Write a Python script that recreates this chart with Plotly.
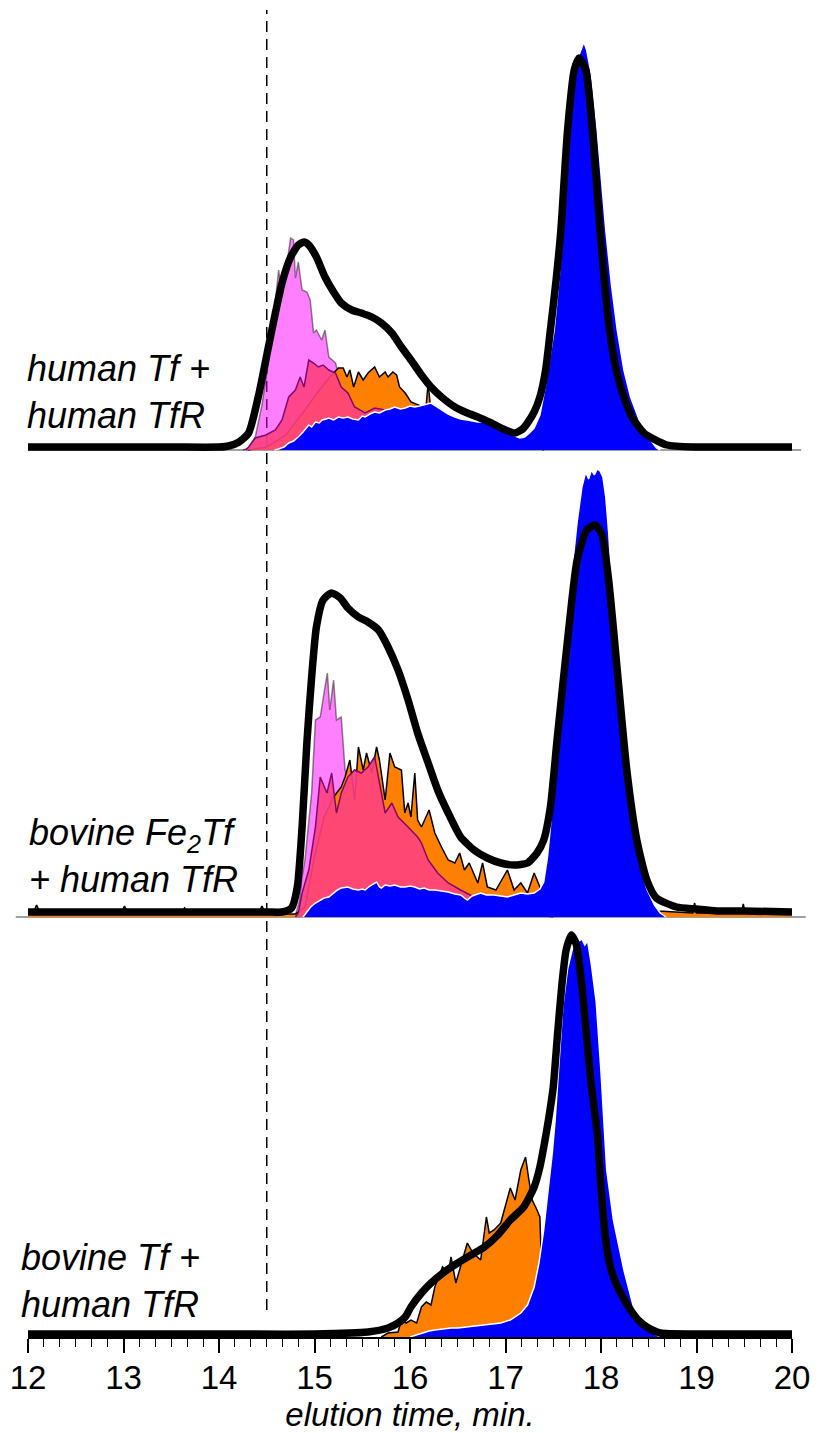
import plotly.graph_objects as go

# ---------------- DATA (elution time in min, absorbance in arbitrary units) ----------------
# Panel 1: human Tf + human TfR
top_black_t = [12.0, 12.5, 13.0, 13.5, 14.0, 14.1, 14.21, 14.31, 14.42, 14.49, 14.56, 14.66, 14.75, 14.83, 14.89,
               14.94, 15.02, 15.11, 15.20, 15.28, 15.39, 15.49, 15.60, 15.70, 15.81, 15.91, 16.01, 16.12, 16.22,
               16.33, 16.47, 16.60, 16.71, 16.85, 17.00, 17.10, 17.18, 17.23, 17.30, 17.36, 17.42, 17.47, 17.53,
               17.58, 17.65, 17.72, 17.77, 17.84, 17.91, 17.99, 18.04, 18.09, 18.16, 18.24, 18.33, 18.45, 18.69,
               19.0, 19.5, 20.0]
top_black_v = [3, 3, 3, 3, 3, 4, 8, 17, 57, 90, 123, 167, 193, 205, 208,
               205, 193, 173, 158, 147, 140, 137, 133, 127, 117, 103, 90, 75, 63,
               53, 43, 37, 33, 27, 20, 17, 21, 27, 38, 53, 80, 120, 170,
               220, 320, 380, 392, 380, 320, 220, 165, 120, 80, 53, 32, 17, 5,
               3, 3, 3]

top_blue_t = [14.58, 14.625, 14.68, 14.73, 14.78, 14.83, 14.88, 14.94, 14.97, 15.01, 15.05, 15.08, 15.12, 15.15,
              15.2, 15.25, 15.3, 15.35, 15.4, 15.46, 15.5, 15.53, 15.58, 15.63, 15.68, 15.74, 15.79, 15.84, 15.9,
              15.95, 16.0, 16.05, 16.1, 16.15, 16.19, 16.22, 16.27, 16.33, 16.4, 16.47, 16.53, 16.6, 16.66,
              16.71, 16.78, 16.85, 16.9, 16.95, 17.0, 17.05, 17.1, 17.15, 17.2, 17.25, 17.3, 17.36, 17.42,
              17.47, 17.51, 17.57, 17.62, 17.66, 17.71, 17.75, 17.79, 17.82, 17.85, 17.9, 17.96, 18.01, 18.05,
              18.11, 18.17, 18.24, 18.31, 18.4, 18.52, 18.58, 18.62]
top_blue_v = [0, 1, 3, 7, 9, 13, 18, 25, 23, 28, 27, 30, 31, 32,
              30, 33, 32, 33, 31, 30, 34, 33, 36, 38, 37, 40, 41, 43, 41,
              42, 44, 43, 44, 45, 46, 47, 44, 40, 36, 33, 31, 30, 29,
              28, 28, 27, 25, 24, 21, 18, 14, 12, 13, 17, 22, 35, 65,
              95, 120, 180, 260, 320, 365, 390, 400, 408, 400, 375, 320, 265, 220,
              165, 120, 80, 53, 30, 10, 2, 0]

top_orange_t = [14.3, 14.5, 14.7, 14.9, 15.05, 15.15, 15.25, 15.30, 15.34, 15.37, 15.41, 15.46, 15.51, 15.56,
                15.63, 15.68, 15.74, 15.77, 15.82, 15.86, 15.89, 15.95, 16.01, 16.08, 16.14, 16.165, 16.19,
                16.21, 16.24, 16.3, 16.4, 16.6, 16.8, 17.0, 17.1, 17.2, 17.4]
top_orange_v = [0, 3, 15, 40, 60, 72, 82, 82, 73, 80, 63, 78, 70, 77,
                83, 73, 78, 73, 78, 75, 63, 57, 48, 45, 43, 40, 67,
                47, 44, 38, 30, 20, 15, 12, 10, 8, 0]

top_magenta_t = [14.25, 14.31, 14.38, 14.45, 14.52, 14.57, 14.625, 14.66, 14.71, 14.75, 14.78, 14.80, 14.83,
                 14.87, 14.92, 14.955, 14.99, 15.02, 15.075, 15.11, 15.15, 15.22, 15.28, 15.35, 15.42, 15.53,
                 15.63, 15.74, 15.8, 15.9, 16.0, 16.1]
top_magenta_v = [0, 2, 13, 45, 90, 133, 180, 153, 187, 212, 210, 172, 188,
                 160, 158, 150, 117, 120, 110, 120, 93, 87, 66, 58, 44, 38,
                 42, 40, 37, 30, 15, 0]

top_red_t = [14.28, 14.31, 14.38, 14.49, 14.59, 14.66, 14.73, 14.80, 14.85, 14.89, 14.94, 14.99, 15.04, 15.09,
             15.15, 15.22, 15.28, 15.35, 15.42, 15.53, 15.63, 15.74, 15.80, 15.9, 16.0, 16.05]
top_red_v = [0, 3, 12, 15, 20, 30, 53, 60, 73, 63, 90, 87, 83, 85,
             80, 77, 63, 57, 43, 37, 42, 40, 37, 30, 10, 0]

# Panel 2: bovine Fe2Tf + human TfR
mid_black_t = [12.0, 13.0, 14.0, 14.5, 14.66, 14.76, 14.82, 14.87, 14.92, 14.97, 15.02, 15.09, 15.18, 15.27,
               15.35, 15.46, 15.56, 15.67, 15.77, 15.875, 15.98, 16.08, 16.19, 16.29, 16.40, 16.53, 16.67,
               16.81, 16.95, 17.09, 17.23, 17.33, 17.40, 17.47, 17.54, 17.65, 17.75, 17.85, 17.94, 18.01,
               18.08, 18.17, 18.27, 18.375, 18.48, 18.58, 18.79, 19.0, 19.21, 19.5, 20.0]
mid_black_v = [5, 5, 5, 5, 5, 9, 30, 90, 174, 240, 290, 317, 324, 319,
               309, 300, 295, 287, 270, 247, 217, 184, 154, 127, 104, 80, 67,
               59, 54, 52, 54, 64, 77, 110, 177, 277, 357, 387, 392, 382,
               337, 247, 147, 77, 37, 19, 10, 8, 6, 6, 5]

mid_blue_t = [14.88, 14.92, 14.96, 15.01, 15.05, 15.1, 15.15, 15.2, 15.24, 15.28, 15.32, 15.35, 15.4, 15.46,
              15.5, 15.53, 15.58, 15.62, 15.65, 15.68, 15.70, 15.74, 15.79, 15.84, 15.9, 15.95, 16.0, 16.05,
              16.1, 16.15, 16.2, 16.26, 16.33, 16.4, 16.47, 16.53, 16.57, 16.6, 16.65, 16.7, 16.74, 16.8,
              16.88, 16.95, 17.02, 17.09, 17.16, 17.23, 17.30, 17.36, 17.40, 17.44, 17.48, 17.52, 17.56,
              17.6, 17.65, 17.7, 17.75, 17.8, 17.84, 17.87, 17.9, 17.93, 17.96, 17.99, 18.02, 18.05, 18.08,
              18.12, 18.17, 18.22, 18.27, 18.33, 18.4, 18.48, 18.56, 18.62, 18.68]
mid_blue_v = [0, 5, 10, 14, 16, 19, 20, 24, 27, 29, 30, 30, 28, 27,
              28, 27, 31, 33, 35, 30, 29, 32, 31, 32, 30, 30, 31, 30,
              28, 29, 27, 27, 26, 25, 23, 22, 19, 17, 21, 23, 24, 22,
              22, 21, 20, 22, 24, 23, 24, 28, 35, 60, 100, 150, 200,
              240, 295, 350, 395, 430, 445, 438, 447, 442, 448, 446, 440, 420, 385,
              320, 250, 180, 135, 90, 55, 28, 12, 4, 0]

mid_orange_t = [12.0, 12.05, 12.09, 12.13, 12.97, 13.01, 13.05, 13.6, 13.64, 13.68, 14.41, 14.45, 14.49,
                14.8, 14.9, 15.0, 15.1, 15.2, 15.28, 15.32, 15.37, 15.42, 15.46, 15.51, 15.545, 15.60,
                15.65, 15.68, 15.74, 15.79, 15.84, 15.91, 15.945, 15.98, 16.01, 16.05, 16.08, 16.12, 16.20,
                16.26, 16.33, 16.40, 16.47, 16.52, 16.57, 16.62, 16.71, 16.76, 16.81, 16.90, 17.02, 17.09,
                17.16, 17.23, 17.30, 17.36, 17.42, 17.5, 18.4, 18.55, 18.6, 18.96, 18.98, 19.0, 19.47, 19.49,
                19.51, 20.0]
mid_orange_v = [3, 3, 12, 3, 3, 11, 3, 3, 9, 3, 3, 11, 3,
                3, 10, 60, 100, 120, 130, 140, 157, 117, 170, 147, 164, 144,
                170, 157, 117, 164, 150, 147, 104, 114, 100, 144, 97, 90, 107,
                84, 70, 57, 54, 64, 47, 54, 34, 54, 30, 27, 47, 27,
                34, 24, 44, 30, 20, 8, 8, 10, 6, 4, 14, 4, 4, 13,
                4, 4]

mid_magenta_t = [12.0, 14.8, 14.84, 14.87, 14.90, 14.94, 14.97, 15.01, 15.06, 15.11, 15.135, 15.16, 15.20,
                 15.23, 15.28, 15.32, 15.35, 15.42, 15.49, 15.56, 15.63, 15.70, 15.8, 15.9, 16.0, 16.1, 16.2,
                 16.3, 16.4, 16.55, 16.7, 16.9, 17.1, 17.2, 17.3, 17.4, 17.5, 18.5, 18.8, 19.5, 20.0]
mid_magenta_v = [2, 2, 15, 40, 57, 95, 124, 197, 200, 230, 244, 207, 237,
                 197, 200, 147, 140, 147, 144, 150, 160, 124, 110, 95, 85, 75, 55,
                 42, 33, 25, 18, 14, 12, 14, 16, 12, 8, 4, 3, 2, 2]

mid_red_t = [14.8, 14.83, 14.87, 14.94, 15.01, 15.06, 15.13, 15.18, 15.23, 15.28, 15.35, 15.42, 15.49, 15.56,
             15.63, 15.70, 15.74, 15.81, 15.875, 15.98, 16.08, 16.12, 16.19, 16.29, 16.40, 16.53, 16.67,
             16.81, 16.95, 17.1, 17.3, 17.5]
mid_red_v = [0, 4, 24, 47, 90, 140, 124, 144, 104, 124, 140, 147, 144, 150,
             160, 124, 104, 114, 100, 90, 80, 74, 57, 44, 34, 27, 20,
             14, 10, 6, 3, 0]

# Panel 3: bovine Tf + human TfR
bot_black_t = [12.0, 13.0, 14.0, 15.0, 15.56, 15.77, 15.875, 15.95, 16.01, 16.12, 16.22, 16.36, 16.50, 16.64,
               16.78, 16.92, 17.05, 17.19, 17.30, 17.36, 17.41, 17.45, 17.50, 17.54, 17.59, 17.635, 17.69,
               17.74, 17.79, 17.85, 17.90, 17.96, 18.00, 18.04, 18.08, 18.13, 18.20, 18.31, 18.40, 18.48,
               18.62, 19.0, 20.0]
bot_black_v = [3, 3, 3, 3, 5, 9, 14, 20, 30, 44, 54, 65, 74, 82,
               90, 102, 117, 130, 150, 170, 195, 217, 250, 297, 352, 387, 402,
               393, 360, 300, 250, 205, 150, 105, 78, 60, 45, 27, 16, 10,
               4, 3, 3]

bot_blue_t = [16.0, 16.12, 16.2, 16.26, 16.35, 16.43, 16.5, 16.6, 16.7, 16.78, 16.88, 16.95, 17.05, 17.12,
              17.16, 17.23, 17.30, 17.35, 17.40, 17.45, 17.49, 17.52, 17.55, 17.6, 17.65, 17.7, 17.75, 17.8,
              17.83, 17.86, 17.9, 17.95, 18.0, 18.03, 18.06, 18.13, 18.24, 18.34, 18.48, 18.58, 18.62]
bot_blue_v = [0, 4, 6, 7, 8, 9, 9, 10, 11, 12, 13, 14, 17, 21,
              24, 32, 50, 74, 107, 150, 184, 217, 260, 330, 368, 388, 395, 398,
              392, 396, 372, 335, 265, 217, 167, 117, 67, 30, 10, 2, 0]

bot_orange_t = [15.7, 15.77, 15.875, 15.91, 15.96, 16.01, 16.07, 16.12, 16.17, 16.22, 16.26, 16.34, 16.40,
                16.43, 16.48, 16.53, 16.60, 16.66, 16.74, 16.80, 16.83, 16.88, 16.95, 17.05, 17.10, 17.16,
                17.21, 17.245, 17.28, 17.33, 17.36, 17.37, 17.38]
bot_orange_v = [0, 4, 5, 17, 14, 17, 14, 30, 35, 32, 50, 70, 64,
                80, 54, 70, 94, 84, 77, 120, 104, 107, 114, 149, 137, 167,
                180, 157, 137, 127, 120, 90, 0]

x_ticks = [12, 13, 14, 15, 16, 17, 18, 19, 20]
marker_time = 14.5
panel_labels = ["<i>human Tf +<br>human TfR</i>",
                "<i>bovine Fe<sub>2</sub>Tf<br>+ human TfR</i>",
                "<i>bovine Tf +<br>human TfR</i>"]
x_title = "<i>elution time, min.</i>"

# ---------------- STYLE / LAYOUT ----------------
W, H = 820, 1433
ML, MR, MT, MB = 27, 26, 10, 96
PH = H - MT - MB


def frac(py):
    return (H - MB - py) / PH


FONT = "Liberation Sans, Arial, sans-serif"
MAGENTA_FILL = "rgba(255,0,255,0.5)"
MAGENTA_LINE = "rgba(0,0,0,0.45)"
RED_FILL = "rgba(255,64,128,0.9)"
RED_LINE = "rgba(110,0,110,0.9)"
ORANGE = "#FF8000"
BLUE = "#0000FF"

fig = go.Figure()


def area(x, y, yax, fill, line, lw):
    fig.add_trace(go.Scatter(x=x, y=y, xaxis="x", yaxis=yax, mode="lines", fill="tozeroy",
                             fillcolor=fill, line=dict(color=line, width=lw),
                             showlegend=False, hoverinfo="skip"))


def black(x, y, yax):
    fig.add_trace(go.Scatter(x=x, y=y, xaxis="x", yaxis=yax, mode="lines",
                             line=dict(color="black", width=7.5, shape="spline", smoothing=0.6),
                             showlegend=False, hoverinfo="skip"))


panels = [
    ("y", top_magenta_t, top_magenta_v, top_orange_t, top_orange_v, top_red_t, top_red_v,
     top_blue_t, top_blue_v, top_black_t, top_black_v),
    ("y2", mid_magenta_t, mid_magenta_v, mid_orange_t, mid_orange_v, mid_red_t, mid_red_v,
     mid_blue_t, mid_blue_v, mid_black_t, mid_black_v),
    ("y3", None, None, bot_orange_t, bot_orange_v, None, None,
     bot_blue_t, bot_blue_v, bot_black_t, bot_black_v),
]

for (yax, mt, mv, ot, ov, rt, rv, bt, bv, kt, kv) in panels:
    if mt is not None:
        area(mt, mv, yax, MAGENTA_FILL, MAGENTA_LINE, 1.5)
    area(ot, ov, yax, ORANGE, "black", 1.5)
    if rt is not None:
        area(rt, rv, yax, RED_FILL, RED_LINE, 1.5)
    area(bt, bv, yax, BLUE, "white", 1.5)
    black(kt, kv, yax)

# panel geometry (pixel targets -> paper fractions)
top_base, top_top = 450, 10
mid_base, mid_top = 917, 462
bot_base, bot_top = 1337, 925

yaxis_common = dict(visible=False, showgrid=False, zeroline=False, fixedrange=True)

fig.update_layout(
    width=W, height=H,
    margin=dict(l=ML, r=MR, t=MT, b=MB),
    paper_bgcolor="white", plot_bgcolor="white",
    showlegend=False,
    xaxis=dict(
        range=[12, 20], domain=[0, 1], anchor="y3",
        showline=True, linecolor="black", linewidth=1.5,
        showgrid=False, zeroline=False,
        ticks="outside", ticklen=14, tickwidth=1.5, tickcolor="black",
        tickmode="array", tickvals=x_ticks, ticktext=[str(v) for v in x_ticks],
        tickfont=dict(family=FONT, size=33, color="black"),
        ticklabelstandoff=-3,
        minor=dict(dtick=1 / 6, tick0=12, ticks="outside", ticklen=8, tickwidth=1.2,
                   tickcolor="black", showgrid=False),
        title=dict(text=x_title, font=dict(family=FONT, size=33, color="black"), standoff=2),
    ),
    yaxis=dict(domain=[frac(top_base + 6), 1.0], range=[-6, top_base - top_top], **yaxis_common),
    yaxis2=dict(domain=[frac(mid_base + 6), frac(mid_top)], range=[-6, mid_base - mid_top], **yaxis_common),
    yaxis3=dict(domain=[0, frac(bot_top)], range=[0, bot_base - bot_top], **yaxis_common),
)

shapes = [
    dict(type="line", xref="x", yref="paper", x0=marker_time, x1=marker_time,
         y0=frac(1310), y1=1.0, line=dict(color="black", width=1.5, dash="11px,7px"), layer="below"),
    dict(type="line", xref="paper", yref="y", x0=0.0, x1=1.012, y0=0, y1=0,
         line=dict(color="#A0A0A0", width=2), layer="below"),
    dict(type="line", xref="paper", yref="y2", x0=-0.016, x1=1.018, y0=0, y1=0,
         line=dict(color="#A0A0A0", width=2), layer="below"),
]
fig.update_layout(shapes=shapes)

label_pos = [(27, 392), (29, 856), (21, 1281)]
annotations = []
for text, (px, py) in zip(panel_labels, label_pos):
    annotations.append(dict(text=text, xref="paper", yref="paper",
                            x=(px - 3 - ML) / (W - ML - MR), y=frac(py),
                            xanchor="left", yanchor="middle", align="left", showarrow=False,
                            font=dict(family=FONT, size=36, color="black")))
fig.update_layout(annotations=annotations)

fig.write_html("out.html")
